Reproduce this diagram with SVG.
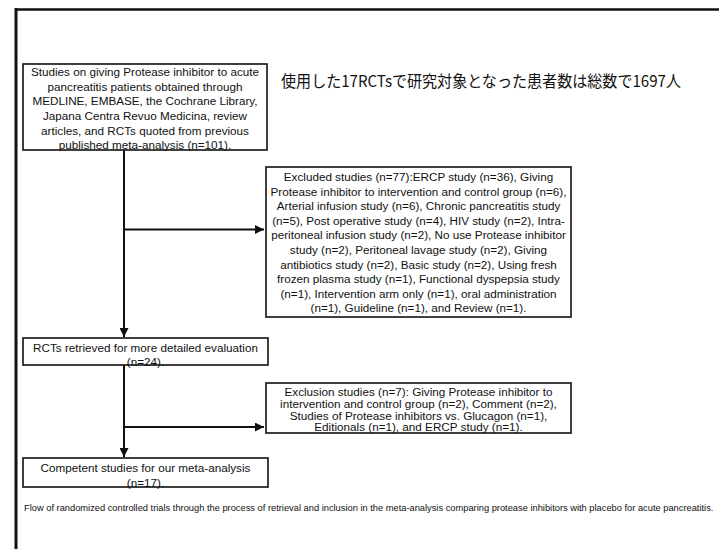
<svg xmlns="http://www.w3.org/2000/svg" width="719" height="549" viewBox="0 0 719 549">
<style>
.box{fill:#fff;stroke:#111;stroke-width:1.6}
.t{font-family:"Liberation Sans",Arial,sans-serif;font-size:11.7px;fill:#111;text-anchor:middle}
.jp{font-family:"Noto Sans CJK JP","Noto Sans CJK SC",sans-serif;font-size:16px;fill:#111}
.cap{font-family:"Liberation Sans",Arial,sans-serif;font-size:9.3px;fill:#111}
.frame{stroke:#111;fill:none}
.conn{stroke:#111;stroke-width:2;fill:none}
</style>
<defs>
<marker id="ah" viewBox="0 0 10 10" refX="10" refY="5" markerWidth="9" markerHeight="9" markerUnits="userSpaceOnUse" orient="auto">
<path d="M0,0 L10,5 L0,10 z" fill="#111"/>
</marker>
</defs>
<rect width="719" height="549" fill="#fff"/>
<g id="frame">
<line class="frame" x1="15" y1="9.5" x2="719" y2="9.5" stroke-width="2.5"/>
<line class="frame" x1="16" y1="8" x2="16" y2="549" stroke-width="3"/>
</g>
<g id="connectors">
<line class="conn" x1="124" y1="150" x2="124" y2="337" marker-end="url(#ah)"/>
<line class="conn" x1="124" y1="229.5" x2="264" y2="229.5" marker-end="url(#ah)"/>
<line class="conn" x1="124" y1="365" x2="124" y2="457" marker-end="url(#ah)"/>
<line class="conn" x1="124" y1="427" x2="264" y2="427" marker-end="url(#ah)"/>
</g>
<g id="n1">
<rect class="box" x="23" y="64" width="244" height="86"/>
<text class="t" x="145" y="76">Studies on giving Protease inhibitor to acute</text>
<text class="t" x="145" y="90.7">pancreatitis patients obtained through</text>
<text class="t" x="145" y="105.3">MEDLINE, EMBASE, the Cochrane Library,</text>
<text class="t" x="145" y="120">Japana Centra Revuo Medicina, review</text>
<text class="t" x="145" y="134.7">articles, and RCTs quoted from previous</text>
<text class="t" x="145" y="149.3">published meta-analysis (n=101).</text>
</g>
<g id="note">
<text class="jp" x="281" y="87" textLength="400" lengthAdjust="spacingAndGlyphs">使用した17RCTsで研究対象となった患者数は総数で1697人</text>
</g>
<g id="n2">
<rect class="box" x="266" y="167" width="305" height="150"/>
<text class="t" x="418.5" y="181">Excluded studies (n=77):ERCP study (n=36), Giving</text>
<text class="t" x="418.5" y="195.6">Protease inhibitor to intervention and control group (n=6),</text>
<text class="t" x="418.5" y="210.2">Arterial infusion study (n=6), Chronic pancreatitis study</text>
<text class="t" x="418.5" y="224.8">(n=5),  Post operative study (n=4), HIV study (n=2), Intra-</text>
<text class="t" x="418.5" y="239.4">peritoneal infusion study (n=2), No use Protease inhibitor</text>
<text class="t" x="418.5" y="254">study (n=2), Peritoneal lavage study (n=2), Giving</text>
<text class="t" x="418.5" y="268.6">antibiotics study (n=2), Basic study (n=2), Using fresh</text>
<text class="t" x="418.5" y="283.2">frozen plasma study (n=1), Functional dyspepsia study</text>
<text class="t" x="418.5" y="297.8">(n=1), Intervention arm only (n=1), oral administration</text>
<text class="t" x="418.5" y="312.4">(n=1), Guideline (n=1), and Review (n=1).</text>
</g>
<g id="n3">
<rect class="box" x="23" y="338" width="245" height="27"/>
<text class="t" x="145.5" y="351.5">RCTs retrieved for more detailed evaluation</text>
<text class="t" x="145.5" y="365.5">(n=24).</text>
</g>
<g id="n4">
<rect class="box" x="266" y="383" width="305" height="50"/>
<text class="t" x="418.5" y="396">Exclusion studies (n=7): Giving Protease inhibitor to</text>
<text class="t" x="418.5" y="407.8">intervention and control group (n=2), Comment (n=2),</text>
<text class="t" x="418.5" y="419.6">Studies of Protease inhibitors vs. Glucagon (n=1),</text>
<text class="t" x="418.5" y="431.4">Editionals (n=1), and ERCP study (n=1).</text>
</g>
<g id="n5">
<rect class="box" x="23" y="458" width="245" height="29"/>
<text class="t" x="145.5" y="472">Competent studies for our meta-analysis</text>
<text class="t" x="145.5" y="487">(n=17).</text>
</g>
<g id="caption">
<text class="cap" x="24" y="511">Flow of randomized controlled trials through the process of retrieval and inclusion in the meta-analysis comparing protease inhibitors with placebo for acute pancreatitis.</text>
</g>
</svg>
